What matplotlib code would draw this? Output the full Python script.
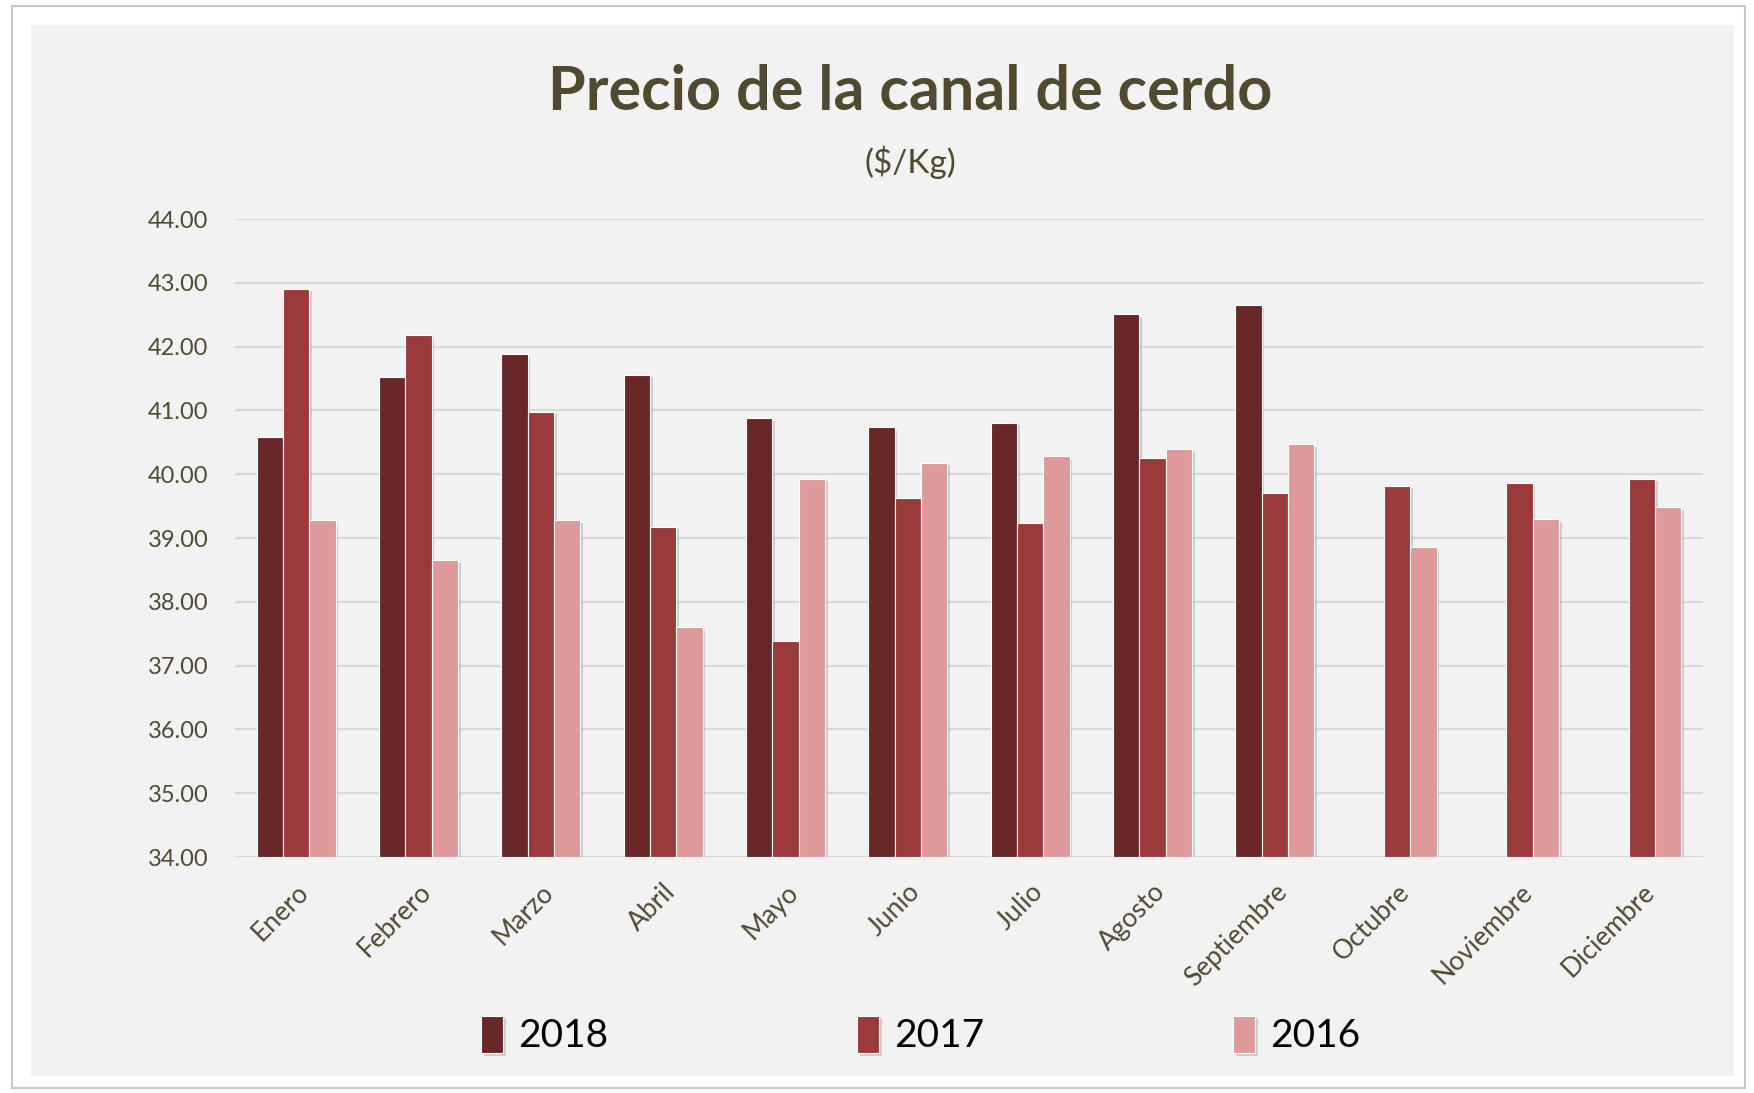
import matplotlib
matplotlib.use("Agg")
import matplotlib.pyplot as plt
import matplotlib.patheffects as pe
from matplotlib.patches import Rectangle
import numpy as np

months = ["Enero", "Febrero", "Marzo", "Abril", "Mayo", "Junio", "Julio",
          "Agosto", "Septiembre", "Octubre", "Noviembre", "Diciembre"]
v2018 = [40.58, 41.53, 41.89, 41.56, 40.88, 40.74, 40.81, 42.51, 42.65, np.nan, np.nan, np.nan]
v2017 = [42.91, 42.18, 40.98, 39.18, 37.39, 39.63, 39.23, 40.25, 39.70, 39.82, 39.86, 39.93]
v2016 = [39.28, 38.65, 39.28, 37.61, 39.93, 40.18, 40.28, 40.40, 40.47, 38.86, 39.30, 39.49]
series_labels = ["2018", "2017", "2016"]
yticks = [34, 35, 36, 37, 38, 39, 40, 41, 42, 43, 44]

colors = ["#692728", "#9A3A3A", "#DE9A9A"]
txt_color = "#4F4A30"
plt.rcParams['font.family'] = ['Lato', 'DejaVu Sans']

W, H = 1754, 1093
fig = plt.figure(figsize=(W / 100, H / 100), dpi=100)
fig.patch.set_facecolor("white")

# frame
fig.patches.append(Rectangle((12 / W, 1 - 1088 / H), (1745 - 12) / W, (1088 - 6) / H,
                             transform=fig.transFigure, facecolor="white",
                             edgecolor="#C8C8C8", linewidth=1.5, zorder=-2))
fig.patches.append(Rectangle((31 / W, 1 - 1076 / H), (1734 - 31) / W, (1076 - 25) / H,
                             transform=fig.transFigure, facecolor="#F2F2F2",
                             edgecolor="none", zorder=-1))

ax = fig.add_axes([235 / W, 1 - 857 / H, (1703 - 235) / W, (857 - 219) / H])
ax.set_facecolor("none")
ax.set_zorder(2)

x = np.arange(len(months))
bw = 0.215
shadow = [pe.SimplePatchShadow(offset=(2, -2), shadow_rgbFace="#888888", alpha=0.35), pe.Normal()]
for i, (vals, c, lab) in enumerate(zip([v2018, v2017, v2016], colors, series_labels)):
    vals = np.array(vals, dtype=float)
    bars = ax.bar(x + (i - 1) * bw, vals - 34, bottom=34, width=bw, color=c,
                  edgecolor="white", linewidth=0.8, label=lab, zorder=3)
    for b in bars:
        b.set_path_effects(shadow)

ax.set_ylim(34, 44)
ax.set_xlim(-0.5, len(months) - 0.5)
ax.set_yticks(yticks)
ax.set_yticklabels([f"{t:.2f}" for t in yticks])
ax.yaxis.grid(True, color="#D9D9D9", linewidth=1.5, zorder=0)
ax.set_axisbelow(True)
for s in ax.spines.values():
    s.set_visible(False)
ax.tick_params(axis="both", length=0, colors=txt_color)
ax.tick_params(axis="y", pad=19, labelsize=17)
ax.set_xticks(x)
ax.set_xticklabels(months, rotation=45, ha="right", va="top", rotation_mode="anchor",
                   fontsize=19, color=txt_color)
ax.tick_params(axis="x", pad=16)

fig.text(0.5 * (490 + 1138) / 1568, 1 - 92 / H, "Precio de la canal de cerdo",
         ha="center", va="center", fontsize=44, fontweight="bold", color=txt_color)
fig.text(0.5 * (490 + 1138) / 1568, 1 - 162 / H, "($/Kg)",
         ha="center", va="center", fontsize=24, color=txt_color)

handles, labels = ax.get_legend_handles_labels()
leg = fig.legend(handles, labels, loc="center", bbox_to_anchor=(921 / W, 1 - 1035 / H),
                 ncol=3, frameon=False, fontsize=28, handlelength=0.55, handleheight=1.1,
                 columnspacing=6.4, handletextpad=0.4)
for t in leg.get_texts():
    t.set_color("black")

fig.savefig("out.png", dpi=100, facecolor=fig.get_facecolor())
